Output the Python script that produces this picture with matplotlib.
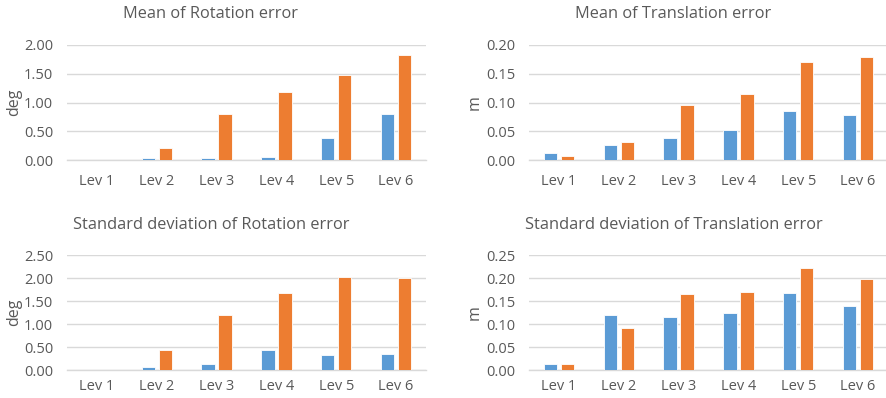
import matplotlib
matplotlib.use("Agg")
import matplotlib.pyplot as plt
import numpy as np

plt.rcParams['font.family'] = ['Open Sans', 'DejaVu Sans']

levels = ["Lev 1", "Lev 2", "Lev 3", "Lev 4", "Lev 5", "Lev 6"]

rot_mean_a = [0.0, 0.04, 0.04, 0.06, 0.38, 0.80]
rot_mean_b = [0.0, 0.21, 0.80, 1.19, 1.47, 1.82]

trans_mean_a = [0.012, 0.026, 0.039, 0.053, 0.085, 0.078]
trans_mean_b = [0.0075, 0.032, 0.096, 0.115, 0.171, 0.179]

rot_std_a = [0.0, 0.07, 0.14, 0.44, 0.33, 0.36]
rot_std_b = [0.0, 0.45, 1.20, 1.67, 2.02, 2.01]

trans_std_a = [0.0145, 0.120, 0.115, 0.125, 0.167, 0.139]
trans_std_b = [0.014, 0.091, 0.166, 0.170, 0.222, 0.199]

BLUE = "#5B9BD5"
ORANGE = "#ED7D31"
GRID = "#D9D9D9"
TEXT = "#595959"

W, H = 887, 398
fig = plt.figure(figsize=(W / 100, H / 100), dpi=100)


def px_axes(x0, x1, y_top, y_zero):
    return fig.add_axes([x0 / W, 1 - y_zero / H, (x1 - x0) / W, (y_zero - y_top) / H])


def panel(ax, a, b, ymax, step, ylabel, title, title_x, title_y, ylabel_x, xpad):
    x = np.arange(len(levels))
    w = 0.222
    off = 0.142
    ax.bar(x - off, a, w, color=BLUE, edgecolor="white", linewidth=0.6, zorder=3)
    ax.bar(x + off, b, w, color=ORANGE, edgecolor="white", linewidth=0.6, zorder=3)
    ax.set_xlim(-0.5, len(levels) - 0.5)
    ax.set_ylim(0, ymax)
    ticks = np.arange(0, ymax + step / 2, step)
    ax.set_yticks(ticks)
    ax.set_yticklabels(["{:.2f}".format(t) for t in ticks])
    ax.set_xticks(x)
    ax.set_xticklabels(levels)
    ax.yaxis.grid(True, color=GRID, linewidth=1.0, zorder=0)
    ax.set_axisbelow(True)
    for s in ("top", "right", "left"):
        ax.spines[s].set_visible(False)
    ax.spines["bottom"].set_color(GRID)
    ax.spines["bottom"].set_linewidth(1.0)
    ax.tick_params(axis="both", length=0, colors=TEXT, labelsize=10.5)
    ax.tick_params(axis="y", pad=10)
    ax.tick_params(axis="x", pad=xpad)
    ax.patch.set_alpha(0)
    pos = ax.get_position()
    fig.text(ylabel_x / W, (pos.y0 + pos.y1) / 2, ylabel, rotation=90,
             ha="center", va="center", color=TEXT, fontsize=11.5)
    fig.text(title_x / W, 1 - title_y / H, title, ha="center", va="center",
             color=TEXT, fontsize=11.8)


ax1 = px_axes(67, 426, 45, 160)
panel(ax1, rot_mean_a, rot_mean_b, 2.0, 0.5, "deg",
      "Mean of Rotation error", 211, 14, 14, 10)

ax2 = px_axes(529, 888, 45, 160)
panel(ax2, trans_mean_a, trans_mean_b, 0.20, 0.05, "m",
      "Mean of Translation error", 673, 14, 475, 10)

ax3 = px_axes(67, 426, 255.3, 370.3)
panel(ax3, rot_std_a, rot_std_b, 2.5, 0.5, "deg",
      "Standard deviation of Rotation error", 211, 225, 14, 6)

ax4 = px_axes(529, 888, 255.3, 370.3)
panel(ax4, trans_std_a, trans_std_b, 0.25, 0.05, "m",
      "Standard deviation of Translation error", 674, 225, 475, 6)

fig.savefig("out.png", dpi=100, facecolor="white")
